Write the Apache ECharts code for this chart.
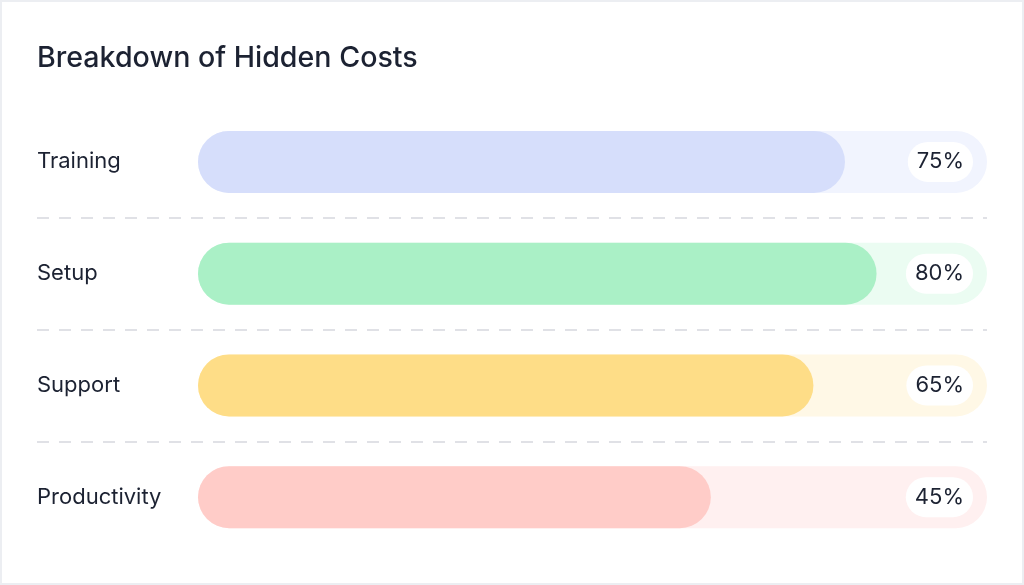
<!DOCTYPE html>
<html lang="en">
<head>
  <meta charset="UTF-8">
  <title>Breakdown of Hidden Costs</title>
  <style>
    html, body {
      height: 100%;
      width: 100%;
      margin: 0;
      padding: 0;
      background: #fff;
    }
    #main {
      width: 100%;
      height: 100%;
      box-sizing: border-box;
      border: 2px solid #eceef2;
    }
  </style>
  <script src="https://cdn.jsdelivr.net/npm/echarts@6/dist/echarts.min.js"></script>
</head>
<body>
<div id="main"></div>

<script>
  // data
  var categories = ['Training', 'Setup', 'Support', 'Productivity'];
  var labelValues = [75, 80, 65, 45];        // printed percentages
  var barLengths = [82, 86, 78, 65];         // drawn fill length, % of the track
  var trackFull = [100, 100, 100, 100];

  var fillColors = ['#d6defb', '#aaf0c6', '#fedd87', '#ffccc8'];
  var trackColors = ['#f1f4fe', '#ebfcf2', '#fff8e6', '#fff0f0'];

  var FONT = 'Inter, "Noto Sans", sans-serif';
  var TEXT = '#1c2232';

  var chartDom = document.getElementById('main');
  var myChart = echarts.init(chartDom);

  var option = {
    animation: false,
    title: {
      text: 'Breakdown of Hidden Costs',
      left: 30,
      top: 37,
      textStyle: {
        fontFamily: FONT,
        fontSize: 28.6,
        fontWeight: 500,
        color: TEXT
      }
    },
    grid: [
      // bars
      { left: 196, right: 35, top: 104, bottom: 30 },
      // row separators, full width
      { left: 35, right: 35, top: 104, bottom: 30 }
    ],
    xAxis: [
      { gridIndex: 0, type: 'value', min: 0, max: 100, show: false },
      { gridIndex: 1, type: 'value', min: 0, max: 100, show: false }
    ],
    yAxis: [
      {
        gridIndex: 0,
        type: 'category',
        data: categories,
        inverse: true,
        axisLine: { show: false },
        axisTick: { show: false },
        splitLine: { show: false },
        axisLabel: {
          align: 'left',
          margin: 161,
          padding: [7, 0, 0, 0],
          fontFamily: FONT,
          fontSize: 22,
          color: TEXT
        }
      },
      {
        gridIndex: 1,
        type: 'category',
        data: categories,
        inverse: true,
        axisLine: { show: false },
        axisTick: { show: false },
        axisLabel: { show: false },
        splitLine: {
          show: true,
          showMinLine: false,
          showMaxLine: false,
          lineStyle: { color: '#e0e1e6', width: 2, type: [12, 10] }
        }
      }
    ],
    series: [
      {
        name: 'track',
        type: 'bar',
        xAxisIndex: 0,
        yAxisIndex: 0,
        barWidth: 62,
        barGap: '-100%',
        silent: true,
        data: trackFull.map(function (v, i) {
          return { value: v, itemStyle: { color: trackColors[i] } };
        }),
        itemStyle: { borderRadius: 31 },
        label: {
          show: true,
          position: 'insideRight',
          distance: 14,
          formatter: function (p) {
            return labelValues[p.dataIndex] + '%';
          },
          backgroundColor: '#ffffff',
          borderRadius: 20,
          padding: [10, 9, 8, 9],
          fontFamily: FONT,
          fontSize: 22,
          color: TEXT
        },
        z: 1
      },
      {
        name: 'fill',
        type: 'bar',
        xAxisIndex: 0,
        yAxisIndex: 0,
        barWidth: 62,
        data: barLengths.map(function (v, i) {
          return { value: v, itemStyle: { color: fillColors[i] } };
        }),
        itemStyle: { borderRadius: 31 },
        z: 2
      }
    ]
  };

  myChart.setOption(option);
</script>
</body>
</html>
